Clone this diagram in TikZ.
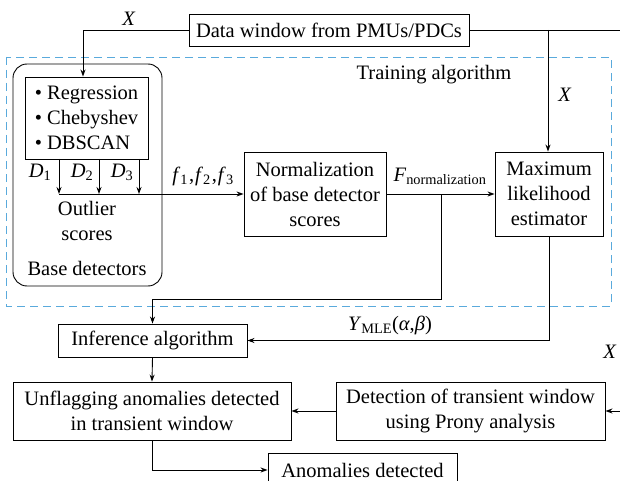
\documentclass[tikz,border=0pt]{standalone}
\usepackage{fontspec}
\setmainfont{Liberation Serif}
\usetikzlibrary{arrows.meta,calc}
\newcommand{\ivar}[2]{\textit{#1}\textsubscript{#2}}
\begin{document}
\begin{tikzpicture}[x=1pt,y=-1pt,
  font=\fontsize{20.5}{25}\selectfont,
  line width=0.9pt,
  box/.style={draw,inner sep=0pt,align=center},
  arr/.style={-{Stealth[length=7pt,width=5pt]}},
  lbl/.style={inner sep=0pt,align=center}]
\useasboundingbox (0,0) rectangle (620,481);
\clip (0,0) rectangle (620,481);
% dashed training region
\draw[color={rgb,255:red,90;green,170;blue,220},dash pattern=on 8pt off 5pt,line width=0.9pt]
  (6,57) rectangle (611,306);
\node[lbl] (train) at (434,75) {Training algorithm};
% base detectors rounded box
\node[box,rounded corners=14pt,minimum width=149pt,minimum height=222pt] (base) at (87.5,175) {};
\node[lbl] (basetxt) at (87,268) {Base detectors};
% nodes
\node[box,minimum width=280pt,minimum height=32pt] (data) at (329,30) {Data window from PMUs/PDCs};
\node[box,minimum width=123pt,minimum height=82pt,align=left] (reg) at (86.5,118) {• Regression\\• Chebyshev\\• DBSCAN};
\node[box,minimum width=142pt,minimum height=84pt] (norm) at (315,194) {Normalization\\of base detector\\scores};
\node[box,minimum width=108pt,minimum height=84pt] (mle) at (549,194) {Maximum\\likelihood\\estimator};
\node[box,minimum width=189pt,minimum height=33pt] (inf) at (152.5,340.5) {Inference algorithm};
\node[box,minimum width=278pt,minimum height=58pt] (unf) at (152,411) {Unflagging anomalies detected\\in transient window};
\node[box,minimum width=269pt,minimum height=58pt] (prony) at (470.5,411) {Detection of transient window\\using Prony analysis};
\node[box,minimum width=189pt,minimum height=34pt] (anom) at (362.5,470) {Anomalies detected};
% labels
\node[lbl] (xa) at (129,19) {\textit{X}};
\node[lbl] (xb) at (565,95) {\textit{X}};
\node[lbl] (xc) at (610,352) {\textit{X}};
\node[lbl] (d1) at (40,172) {\ivar{D}{1}};
\node[lbl] (d2) at (82,172) {\ivar{D}{2}};
\node[lbl] (d3) at (122,172) {\ivar{D}{3}};
\node[lbl] (out) at (87,221) {Outlier\\scores};
\node[lbl] (fl) at (203,176) {\ivar{f}{1}\kern1pt,\kern1pt\ivar{f}{2}\kern1pt,\kern1pt\ivar{f}{3}};
\node[lbl] (fn) at (440,176) {\ivar{F}{normalization}};
\node[lbl] (ym) at (390,325) {\ivar{Y}{MLE}(\textit{α},\textit{β})};
% coordinates
\coordinate (left) at (83,30);
\coordinate (right1) at (620,30);
\coordinate (br1) at (548,30);
\coordinate (right2) at (620,411);
\coordinate (s1) at (59,159); \coordinate (e1) at (59,194);
\coordinate (s2) at (99,159); \coordinate (e2) at (99,194);
\coordinate (s3) at (139,159); \coordinate (e3) at (139,194);
\coordinate (br2) at (441,194);
\coordinate (bot) at (441,299);
% connectors
\draw[arr] (data.west) -- (left) -- (left |- reg.north);
\draw (data.east) -- (right1);
\draw[arr] (br1) -- (br1 |- mle.north);
\draw[arr] (s1) -- (e1);
\draw[arr] (s2) -- (e2);
\draw[arr] (s3) -- (e3);
\draw[arr] (e1) -- (norm.west);
\draw[arr] (norm.east) -- (mle.west);
\draw[arr] (br2) -- (bot) -| (inf.north);
\draw[arr] (mle.south) |- (inf.east);
\draw[arr] (inf.south) -- (unf.north);
\draw[arr] (right2) -- (prony.east);
\draw[arr] (prony.west) -- (unf.east);
\draw[arr] (unf.south) |- (anom.west);
\end{tikzpicture}
\end{document}
